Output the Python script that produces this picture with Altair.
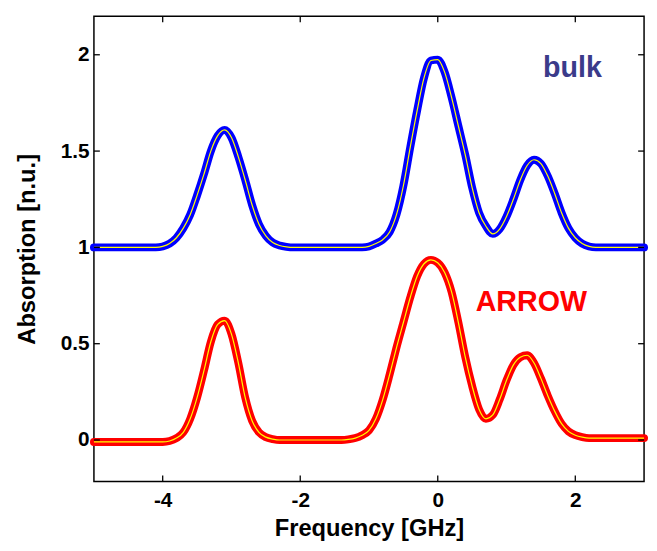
import altair as alt
import pandas as pd

# Frequency grid [GHz]
freq = [
    -5.0, -4.9, -4.8, -4.7, -4.6, -4.5, -4.4, -4.3, -4.2, -4.1,
    -4.0, -3.9, -3.8, -3.7, -3.6, -3.5, -3.4, -3.3, -3.2, -3.1,
    -3.0, -2.9, -2.8, -2.7, -2.6, -2.5, -2.4, -2.3, -2.2, -2.1,
    -2.0, -1.9, -1.8, -1.7, -1.6, -1.5, -1.4, -1.3, -1.2, -1.1,
    -1.0, -0.9, -0.8, -0.7, -0.6, -0.5, -0.4, -0.3, -0.2, -0.1,
    0.0, 0.1, 0.2, 0.3, 0.4, 0.5, 0.6, 0.7, 0.8, 0.9,
    1.0, 1.1, 1.2, 1.3, 1.4, 1.5, 1.6, 1.7, 1.8, 1.9,
    2.0, 2.1, 2.2, 2.3, 2.4, 2.5, 2.6, 2.7, 2.8, 2.9,
    3.0,
]

# bulk absorption (offset by 1)
bulk = [
    1.00, 1.00, 1.00, 1.00, 1.00, 1.00, 1.00, 1.00, 1.00, 1.00,
    1.005, 1.02, 1.05, 1.10, 1.17, 1.27, 1.38, 1.50, 1.58, 1.61,
    1.57, 1.47, 1.35, 1.22, 1.12, 1.06, 1.025, 1.01, 1.003, 1.00,
    1.00, 1.00, 1.00, 1.00, 1.00, 1.00, 1.00, 1.00, 1.00, 1.00,
    1.005, 1.02, 1.04, 1.08, 1.17, 1.32, 1.52, 1.71, 1.88, 1.97,
    1.975, 1.91, 1.78, 1.63, 1.48, 1.31, 1.18, 1.11, 1.07, 1.095,
    1.16, 1.25, 1.35, 1.425, 1.455, 1.435, 1.37, 1.28, 1.18, 1.10,
    1.05, 1.02, 1.005, 1.00, 1.00, 1.00, 1.00, 1.00, 1.00, 1.00,
    1.00,
]

# ARROW absorption
arrow = [
    -0.01, -0.01, -0.01, -0.01, -0.01, -0.01, -0.01, -0.01, -0.01, -0.01,
    -0.01, -0.005, 0.01, 0.04, 0.11, 0.22, 0.36, 0.51, 0.60, 0.62,
    0.55, 0.40, 0.22, 0.10, 0.04, 0.015, 0.005, 0.00, 0.00, 0.00,
    0.00, 0.00, 0.00, 0.00, 0.00, 0.00, 0.00, 0.003, 0.01, 0.025,
    0.05, 0.11, 0.21, 0.34, 0.48, 0.61, 0.74, 0.85, 0.915, 0.935,
    0.92, 0.87, 0.77, 0.61, 0.43, 0.28, 0.16, 0.11, 0.13, 0.21,
    0.31, 0.39, 0.43, 0.44, 0.40, 0.32, 0.23, 0.15, 0.085, 0.045,
    0.025, 0.015, 0.01, 0.01, 0.01, 0.01, 0.01, 0.01, 0.01, 0.01,
    0.01,
]

x_ticks = [-4, -2, 0, 2]
y_ticks = [0, 0.5, 1, 1.5, 2]

df = pd.DataFrame({
    "freq": freq * 2,
    "absorption": bulk + arrow,
    "sample": ["bulk"] * len(freq) + ["ARROW"] * len(freq),
})

W, H = 557, 471
xs = alt.Scale(domain=[-5, 3], nice=False, zero=False)
ys = alt.Scale(domain=[-0.215, 2.2], nice=False, zero=False)

base = alt.Chart(df)

data_band = base.mark_line(strokeWidth=8, strokeCap="round", strokeJoin="round",
                           interpolate="monotone").encode(
    x=alt.X("freq:Q", scale=xs,
            axis=alt.Axis(values=x_ticks, title="Frequency [GHz]",
                          labelExpr="'' + datum.value", ticks=False, tickSize=0,
                          domain=False, grid=False, labelPadding=8, titlePadding=7)),
    y=alt.Y("absorption:Q", scale=ys,
            axis=alt.Axis(values=y_ticks, title="Absorption [n.u.]",
                          labelExpr="'' + datum.value", ticks=False, tickSize=0,
                          domain=False, grid=False, labelPadding=5, titlePadding=21)),
    color=alt.Color("sample:N", scale=alt.Scale(domain=["bulk", "ARROW"],
                                                range=["#0000ff", "#ff0000"]), legend=None),
    detail="sample:N",
)

fit = base.mark_line(strokeWidth=1.2, color="#ffff00", interpolate="monotone").encode(
    x=alt.X("freq:Q", scale=xs),
    y=alt.Y("absorption:Q", scale=ys),
    detail="sample:N",
)

xt = pd.DataFrame({"t": x_ticks})
yt = pd.DataFrame({"t": y_ticks})

bottom_ticks = alt.Chart(xt).mark_rule(color="black", strokeWidth=1.3).encode(
    x=alt.X("t:Q", scale=xs), y=alt.value(H), y2=alt.value(H - 6))
top_ticks = alt.Chart(xt).mark_rule(color="black", strokeWidth=1.3).encode(
    x=alt.X("t:Q", scale=xs), y=alt.value(0), y2=alt.value(6))
left_ticks = alt.Chart(yt).mark_rule(color="black", strokeWidth=1.3).encode(
    y=alt.Y("t:Q", scale=ys), x=alt.value(0), x2=alt.value(6))
right_ticks = alt.Chart(yt).mark_rule(color="black", strokeWidth=1.3).encode(
    y=alt.Y("t:Q", scale=ys), x=alt.value(W), x2=alt.value(W - 6))

bulk_lbl = alt.Chart(pd.DataFrame({"label": ["bulk"]})).mark_text(
    font="Liberation Sans", fontWeight="bold", fontSize=29, color="#3b3b8a",
    align="center", baseline="alphabetic").encode(
    x=alt.datum(1.96, scale=xs), y=alt.datum(1.887, scale=ys), text="label:N")
arrow_lbl = alt.Chart(pd.DataFrame({"label": ["ARROW"]})).mark_text(
    font="Liberation Sans", fontWeight="bold", fontSize=29, color="#ff0000",
    align="center", baseline="alphabetic").encode(
    x=alt.datum(1.36, scale=xs), y=alt.datum(0.67, scale=ys), text="label:N")

chart = alt.layer(
    data_band, fit, bottom_ticks, top_ticks, left_ticks, right_ticks, bulk_lbl, arrow_lbl
).properties(
    width=W, height=H,
    background="white",
    autosize=alt.AutoSizeParams(type="none"),
    padding={"left": 87, "top": 5, "right": 5, "bottom": 60},
).configure_view(
    stroke="black", strokeWidth=1.5
).configure_axis(
    labelFont="Liberation Sans", labelFontWeight="bold", labelFontSize=21,
    labelColor="black", titleFont="Liberation Sans", titleFontWeight="bold",
    titleFontSize=24, titleColor="black"
)

chart.save("out.html", embed_options={"renderer": "svg", "actions": False})
